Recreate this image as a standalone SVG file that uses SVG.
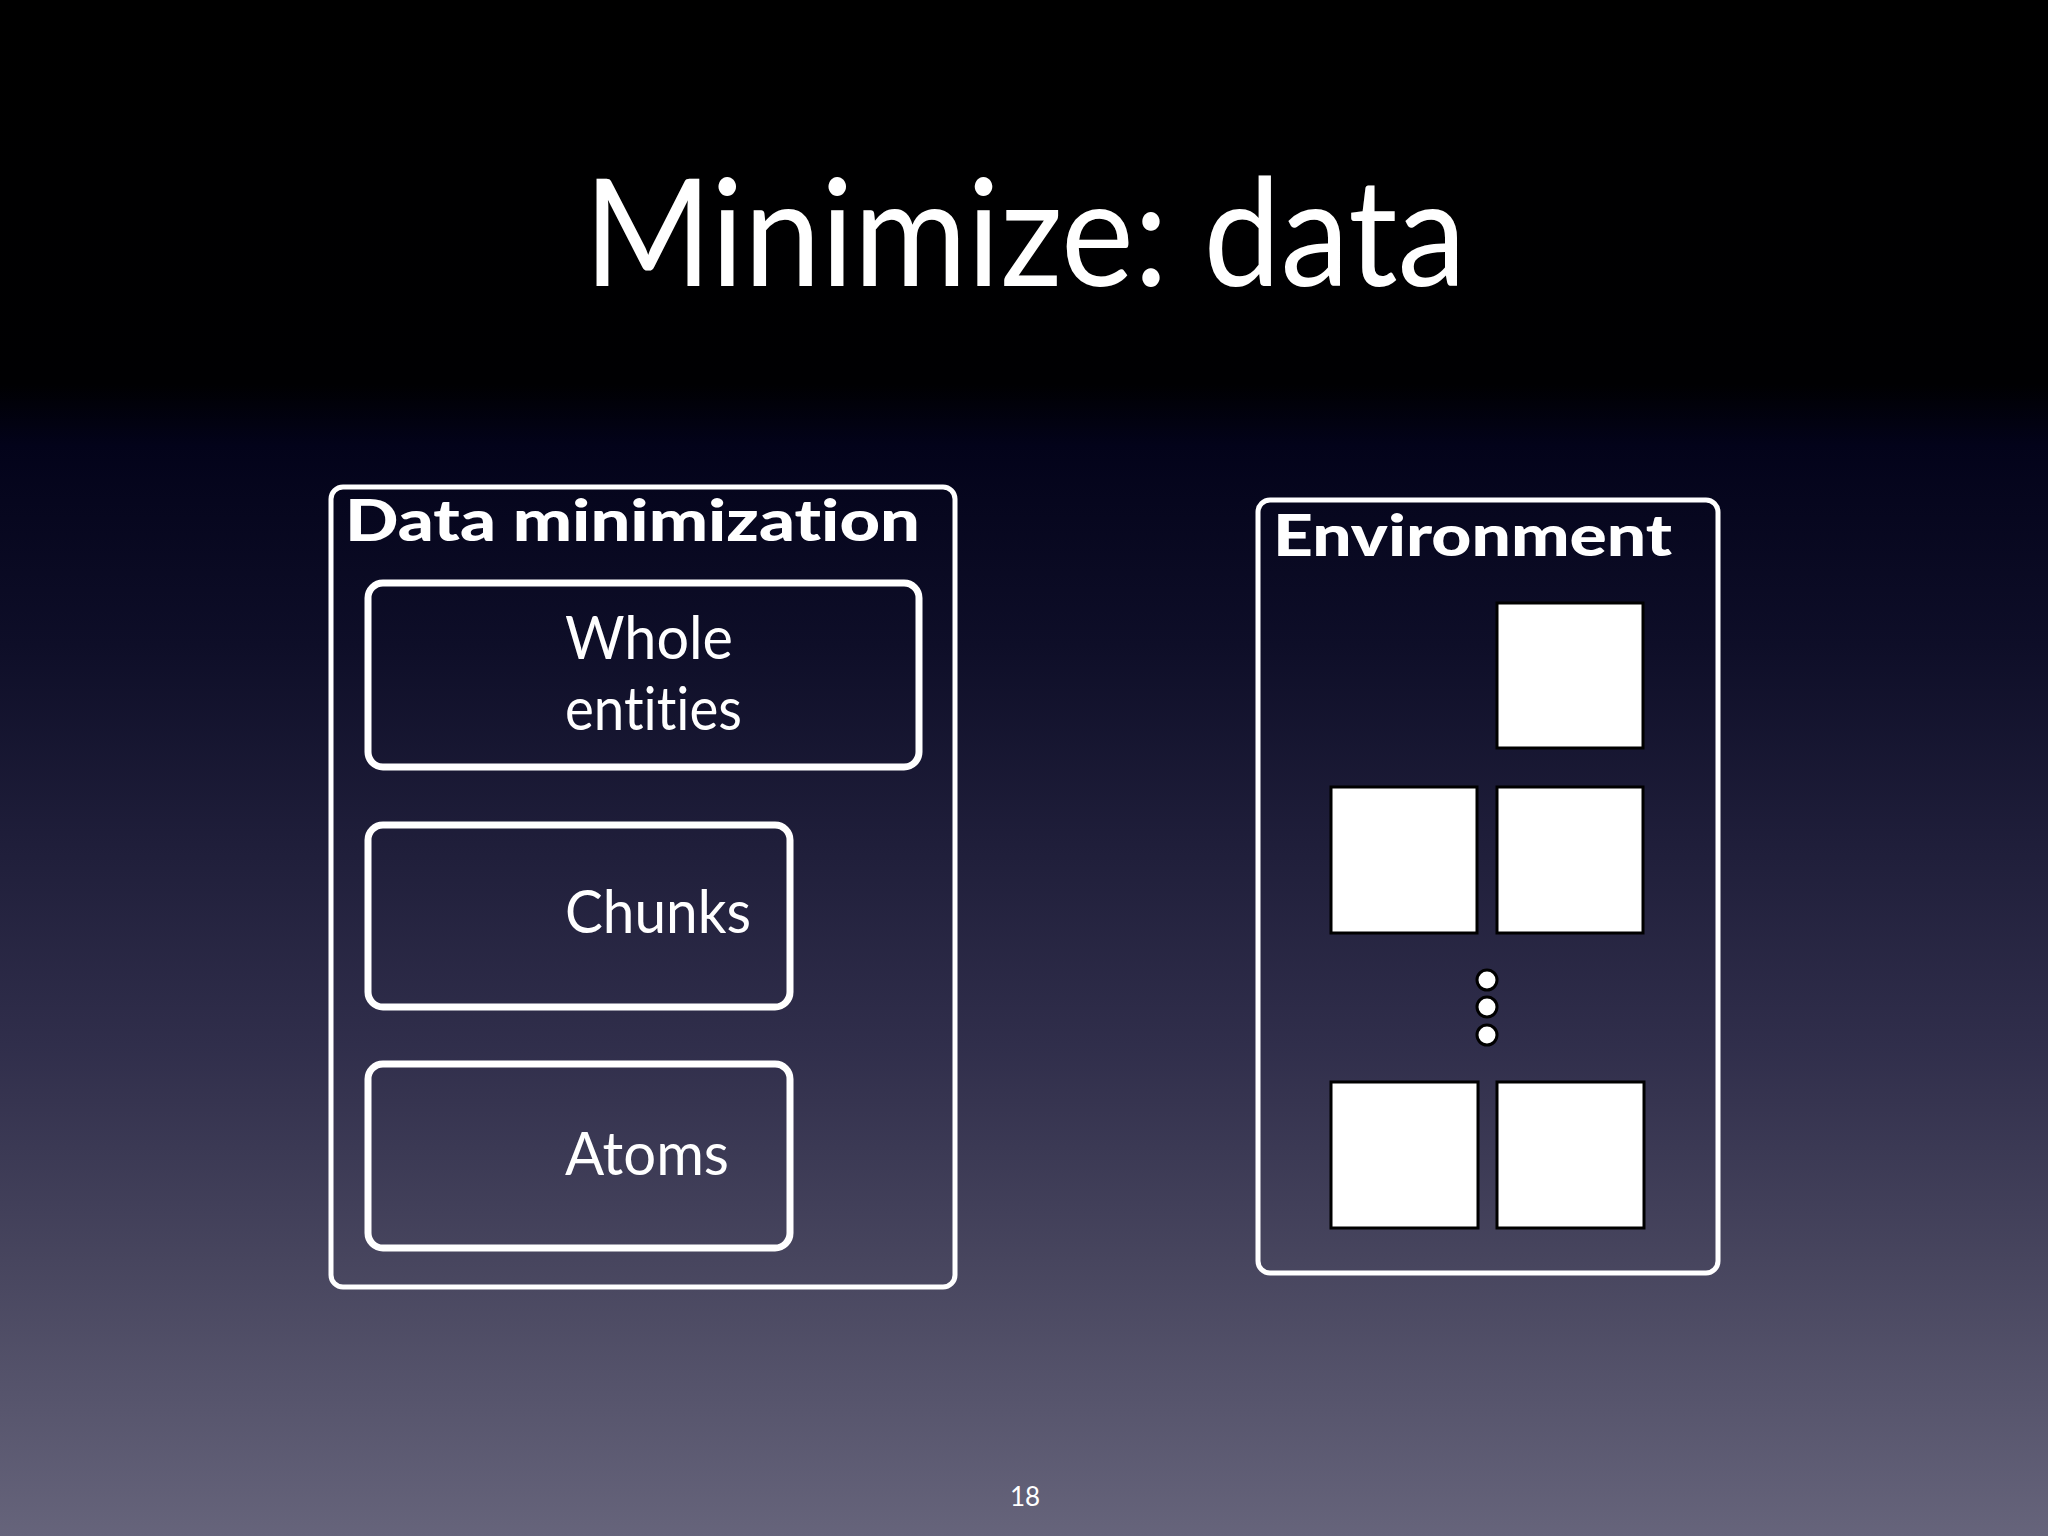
<svg xmlns="http://www.w3.org/2000/svg" width="2048" height="1536" viewBox="0 0 2048 1536">
<defs>
<linearGradient id="bg" x1="0" y1="0" x2="0" y2="1">
<stop offset="0" stop-color="#000000"/>
<stop offset="0.25" stop-color="#000002"/>
<stop offset="0.29" stop-color="#03031a"/>
<stop offset="0.42" stop-color="#0e0e28"/>
<stop offset="0.55" stop-color="#1f1e3a"/>
<stop offset="0.68" stop-color="#302e4b"/>
<stop offset="0.82" stop-color="#47455e"/>
<stop offset="1" stop-color="#66647b"/>
</linearGradient>
<style>
text{font-variant-ligatures:none;font-feature-settings:"liga" 0,"clig" 0}
.frame{fill:none;stroke:#ffffff;stroke-width:5}
.box{fill:none;stroke:#ffffff;stroke-width:7}
.sq{fill:#ffffff;stroke:#000000;stroke-width:3}
.dot{fill:#ffffff;stroke:#000000;stroke-width:3}
.hd{font-family:Lato,"Liberation Sans",sans-serif;font-weight:900;fill:#ffffff;font-size:57px}
.lb{font-family:Lato,"Liberation Sans",sans-serif;fill:#ffffff;font-size:60px}
.title{font-family:Lato,"Liberation Sans",sans-serif;fill:#ffffff;font-size:150px}
.pn{font-family:Lato,"Liberation Sans",sans-serif;fill:#ffffff;font-size:26px}
</style>
</defs>
<rect x="0" y="0" width="2048" height="1536" fill="url(#bg)"/>
<text class="title" x="584" y="286" textLength="882" lengthAdjust="spacingAndGlyphs">Minimize: data</text>

<g id="data-minimization">
<rect class="frame" x="331" y="487" width="624" height="800" rx="12"/>
<text class="hd" x="345" y="541" textLength="575" lengthAdjust="spacingAndGlyphs">Data minimization</text>
</g>
<g id="whole-entities">
<rect class="box" x="368" y="583" width="551" height="184" rx="15"/>
<text class="lb" x="565" y="659" textLength="168" lengthAdjust="spacingAndGlyphs">Whole</text>
<text class="lb" x="565" y="730" textLength="177" lengthAdjust="spacingAndGlyphs">entities</text>
</g>
<g id="chunks">
<rect class="box" x="368" y="825" width="422" height="182" rx="15"/>
<text class="lb" x="565" y="933" textLength="186" lengthAdjust="spacingAndGlyphs">Chunks</text>
</g>
<g id="atoms">
<rect class="box" x="368" y="1064" width="422" height="184" rx="15"/>
<text class="lb" x="565" y="1175" textLength="164" lengthAdjust="spacingAndGlyphs">Atoms</text>
</g>

<g id="environment">
<rect class="frame" x="1258" y="500" width="460" height="773" rx="12"/>
<text class="hd" x="1273" y="556" textLength="399" lengthAdjust="spacingAndGlyphs">Environment</text>
</g>
<g id="env-items">
<rect class="sq" x="1497" y="603" width="146" height="145"/>
<rect class="sq" x="1331" y="787" width="146" height="146"/>
<rect class="sq" x="1497" y="787" width="146" height="146"/>
<circle class="dot" cx="1487" cy="980" r="10"/>
<circle class="dot" cx="1487" cy="1007" r="10"/>
<circle class="dot" cx="1487" cy="1035" r="10"/>
<rect class="sq" x="1331" y="1082" width="147" height="146"/>
<rect class="sq" x="1497" y="1082" width="147" height="146"/>
</g>
<g id="connectors"></g>
<text class="pn" x="1025" y="1506" text-anchor="middle">18</text>
</svg>
